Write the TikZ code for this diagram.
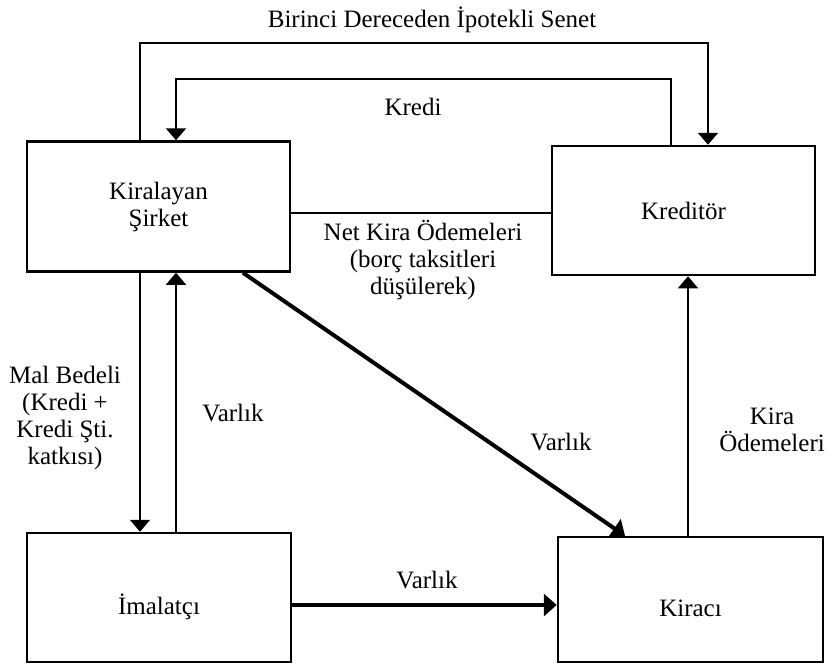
\documentclass[tikz,border=0pt]{standalone}
\usepackage{fontspec}
\setmainfont{Liberation Serif}
\usetikzlibrary{arrows.meta, positioning}

\begin{document}
\begin{tikzpicture}[x=1pt, y=-1pt, font=\fontsize{25}{27}\selectfont,
    box/.style={rectangle, draw, line width=2.5pt, minimum width=263pt, minimum height=130pt, inner sep=0pt, align=center},
    lbl/.style={align=center, inner sep=0pt},
    thinarrow/.style={line width=1.6pt, -{Triangle[width=20pt, length=12pt]}},
    midarrow/.style={line width=2.2pt, -{Triangle[width=20pt, length=12pt]}},
    boldarrow/.style={line width=4pt, -{Triangle[width=22pt, length=13pt]}}]

    \useasboundingbox (0,0) rectangle (827,665);

    \node[box] (kiralayan) at (158.5,206.5) {Kiralayan\\Şirket};
    \node[box, minimum height=129pt] (kreditor) at (683.5,210.5) {Kreditör};
    \node[box, minimum width=264pt, minimum height=129pt, text height=36pt, text depth=2pt] (imalatci) at (159,597.5) {İmalatçı};
    \node[box, minimum width=265pt, minimum height=125pt, text height=36pt, text depth=2pt] (kiraci) at (690.5,599.5) {Kiracı};

    \node[lbl] (senet) at (432,20) {Birinci Dereceden İpotekli Senet};
    \node[lbl] (kredi) at (413,107) {Kredi};
    \node[lbl] (netkira) at (423,260) {Net Kira Ödemeleri\\(borç taksitleri\\düşülerek)};
    \node[lbl] (malbedeli) at (65,418) {Mal Bedeli\\(Kredi +\\Kredi Şti.\\katkısı)};
    \node[lbl] (varlikup) at (233,413) {Varlık};
    \node[lbl] (varlikdiag) at (561,442) {Varlık};
    \node[lbl] (kiraodeme) at (772,430) {Kira\\Ödemeleri};
    \node[lbl] (varlikalt) at (427,580) {Varlık};

    \draw[midarrow] ([xshift=-18.5pt]kiralayan.north) -- ++(0,-97.5) -| ([xshift=24.5pt]kreditor.north);
    \draw[midarrow] ([xshift=-12.5pt]kreditor.north) -- ++(0,-66) -| ([xshift=17.5pt]kiralayan.north);
    \draw[line width=2pt] (kiralayan.east |- 0,213) -- (kreditor.west |- 0,213);

    \draw[thinarrow] (kiralayan.south -| 140,0) -- (imalatci.north -| 140,0);
    \draw[thinarrow] (imalatci.north -| 176,0) -- (kiralayan.south -| 176,0);
    \draw[boldarrow] ([xshift=84.5pt]kiralayan.south) -- ([xshift=-65.5pt]kiraci.north);
    \draw[boldarrow] (imalatci.east |- 0,605) -- (kiraci.west |- 0,605);
    \draw[thinarrow] (kiraci.north -| 688,0) -- (kreditor.south -| 688,0);

\end{tikzpicture}
\end{document}
